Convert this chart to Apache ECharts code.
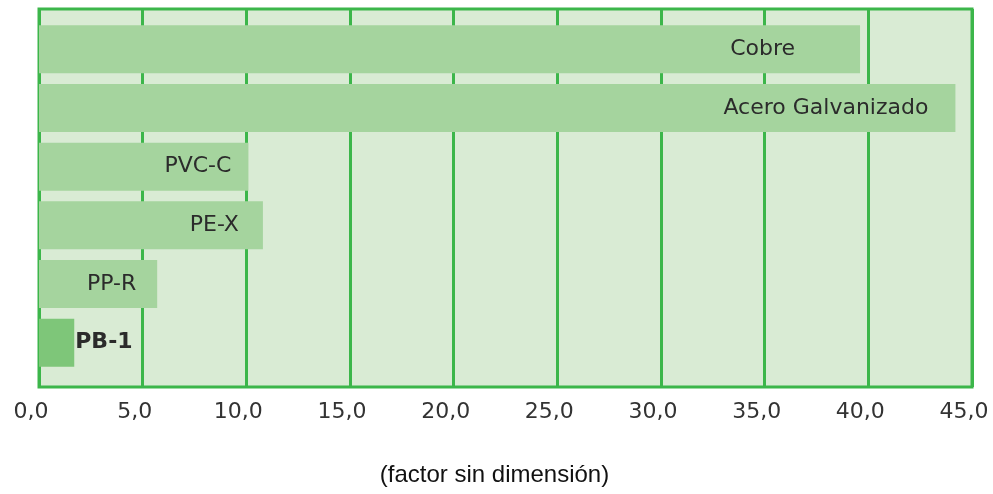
<!DOCTYPE html>
<html>
<head>
<meta charset="utf-8">
<script src="https://cdn.jsdelivr.net/npm/echarts@6/dist/echarts.min.js"></script>
<style>
  html, body { margin: 0; padding: 0; background: #ffffff; }
  #chart { width: 993px; height: 494px; }
</style>
</head>
<body>
<div id="chart"></div>
<script>
// Materials, top to bottom
const materials = ['Cobre', 'Acero Galvanizado', 'PVC-C', 'PE-X', 'PP-R', 'PB-1'];
// Dimensionless factor for each material
const factors = [39.6, 44.2, 10.1, 10.8, 5.7, 1.7];
// Value axis range and step
const axisMin = 0;
const axisMax = 45;
const axisStep = 5;

// Distance between the end of each bar and its label
const labelGap = [65, 27, 17, 24, 21, 1];

const barColor = '#a5d49e';
const highlightColor = '#7ec679';
const lineGreen = '#3cb64a';

const barData = materials.map(function (name, i) {
  const highlighted = name === 'PB-1';
  return {
    value: factors[i],
    name: name,
    itemStyle: { color: highlighted ? highlightColor : barColor },
    label: highlighted
      ? { position: 'right', distance: labelGap[i], fontWeight: 'bold' }
      : { position: 'insideRight', distance: labelGap[i] }
  };
});

const chart = echarts.init(document.getElementById('chart'), null, { renderer: 'canvas' });

chart.setOption({
  animation: false,
  grid: [
    {
      // framed plot area with vertical grid lines
      left: 39, top: 9, width: 933, height: 378,
      outerBoundsMode: 'none',
      containLabel: false,
      show: true,
      backgroundColor: '#d9ebd4',
      borderColor: lineGreen,
      borderWidth: 3
    },
    {
      // band area holding the bars
      left: 39, top: 20, width: 933, height: 352,
      outerBoundsMode: 'none',
      containLabel: false
    }
  ],
  xAxis: [
    {
      gridIndex: 0,
      type: 'value',
      min: axisMin, max: axisMax, interval: axisStep,
      axisLine: { show: false },
      axisTick: { show: false },
      splitLine: { show: true, lineStyle: { color: lineGreen, width: 3 } },
      axisLabel: {
        margin: 14,
        padding: [0, 16, 0, 0],
        fontFamily: 'DejaVu Sans',
        fontSize: 22,
        color: '#333333',
        formatter: function (v) { return v.toFixed(1).replace('.', ','); }
      },
      name: '(factor sin dimensión)',
      nameLocation: 'middle',
      nameGap: 76,
      nameTextStyle: {
        fontFamily: 'Liberation Sans',
        fontSize: 24,
        color: '#111111',
        padding: [0, 22, 0, 0]
      }
    },
    {
      gridIndex: 1,
      type: 'value',
      min: axisMin, max: axisMax,
      show: false
    }
  ],
  yAxis: [
    { gridIndex: 0, type: 'value', show: false, splitLine: { show: false } },
    {
      gridIndex: 1,
      type: 'category',
      data: materials,
      inverse: true,
      show: false
    }
  ],
  series: [
    {
      type: 'bar',
      xAxisIndex: 1,
      yAxisIndex: 1,
      barWidth: 48,
      data: barData,
      label: {
        show: true,
        formatter: '{b}',
        fontFamily: 'DejaVu Sans',
        fontSize: 22,
        color: '#2b2b2b'
      }
    }
  ]
});
</script>
</body>
</html>
